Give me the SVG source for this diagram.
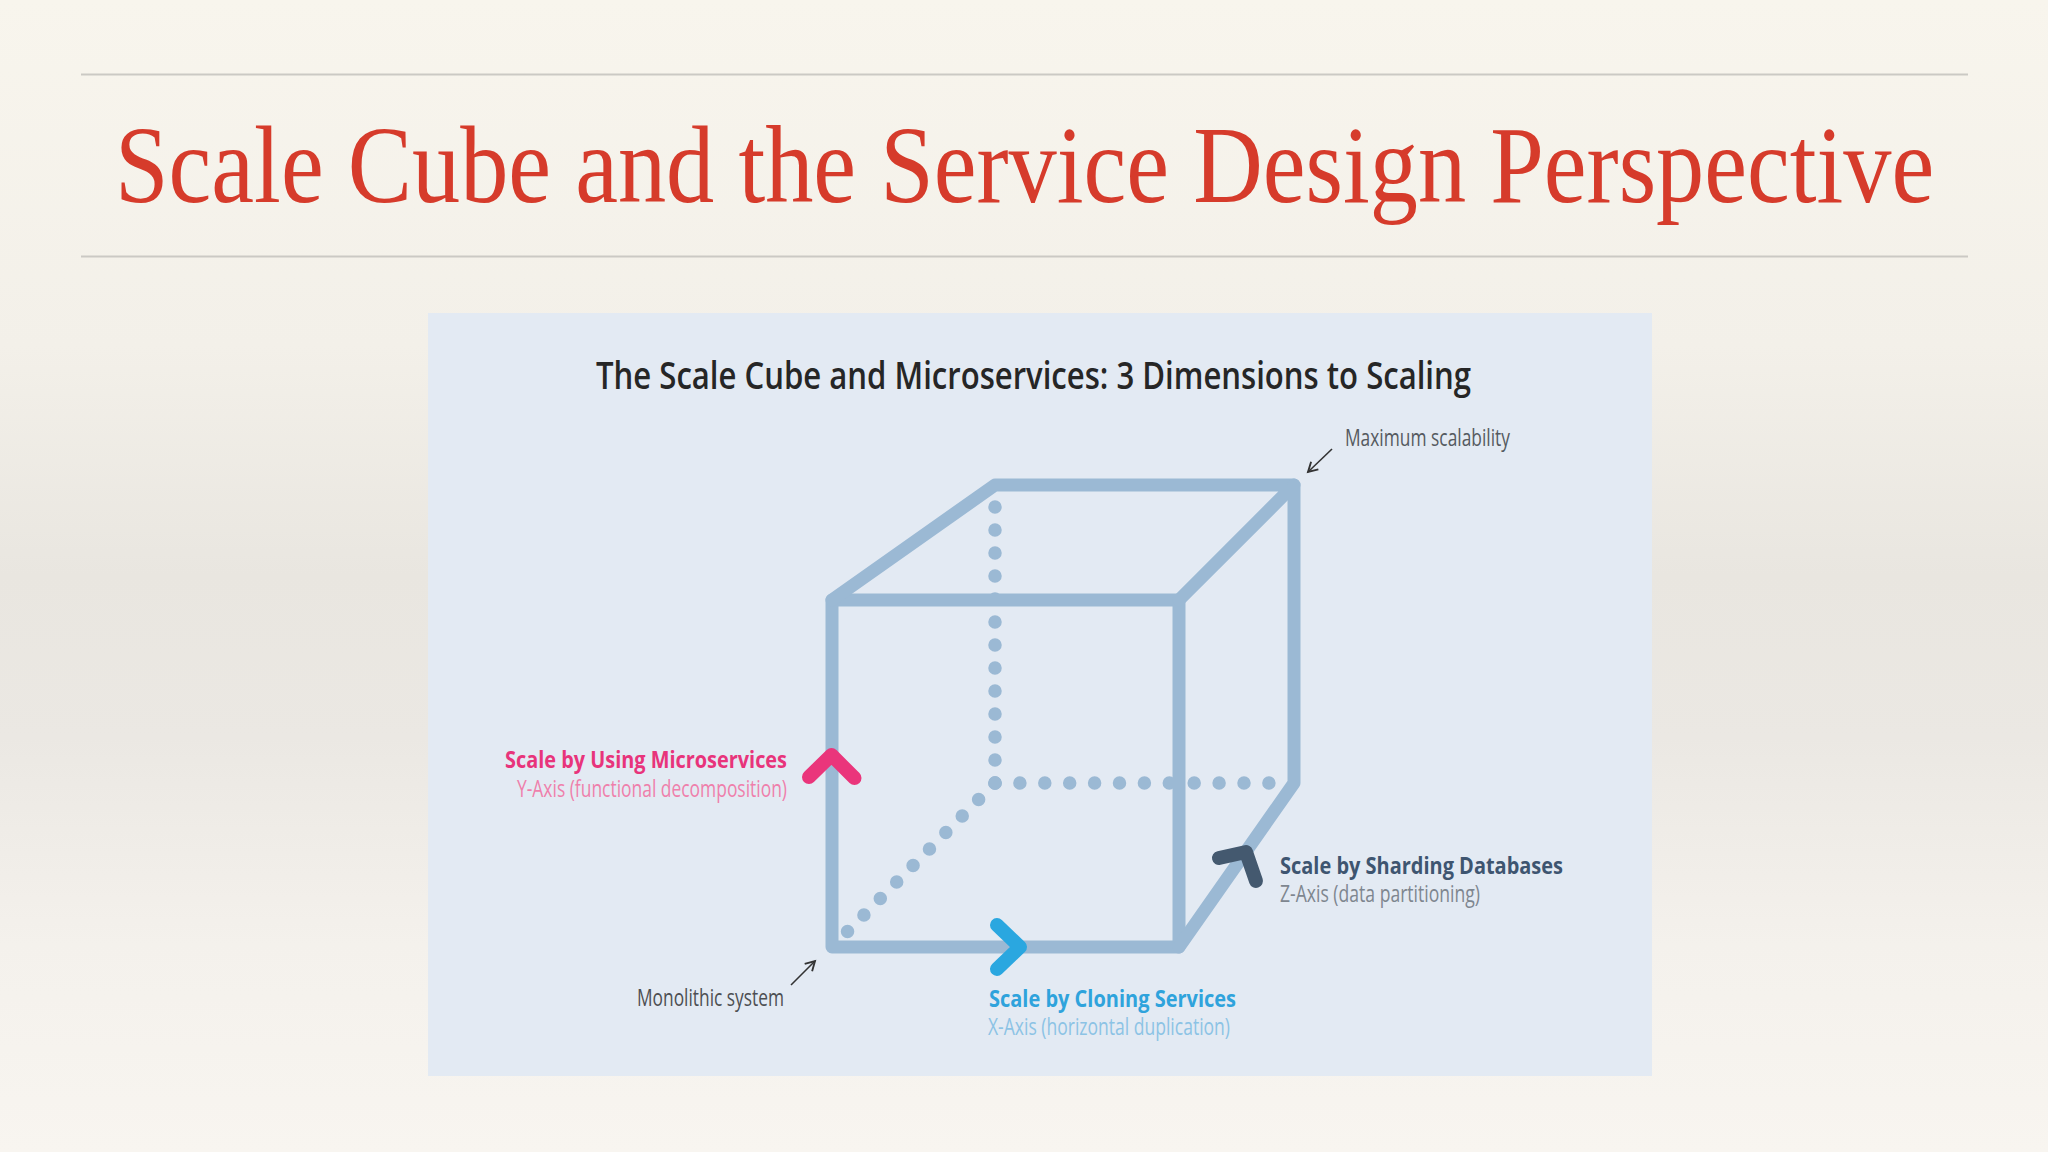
<svg xmlns="http://www.w3.org/2000/svg" width="2048" height="1152" viewBox="0 0 2048 1152">
  <defs>
    <linearGradient id="bg" x1="0" y1="0" x2="0" y2="1">
      <stop offset="0" stop-color="#f8f5ed"/>
      <stop offset="0.3" stop-color="#f3f0e9"/>
      <stop offset="0.5" stop-color="#e9e6e0"/>
      <stop offset="0.64" stop-color="#ebe8e3"/>
      <stop offset="0.82" stop-color="#f4f1ec"/>
      <stop offset="1" stop-color="#f8f5f0"/>
    </linearGradient>
    <marker id="tip" markerUnits="userSpaceOnUse" markerWidth="14" markerHeight="14" viewBox="-10 -6 12 12" refX="0" refY="0" orient="auto">
      <path d="M-8,-4.5 L0,0 L-8,4.5" fill="none" stroke="#333" stroke-width="1.6"/>
    </marker>
    <style>
      .rule { stroke:#cbc9c4; stroke-width:2; }
      .edge { fill:none; stroke:#9bb9d4; stroke-width:13; stroke-linecap:round; stroke-linejoin:round; }
      .dots { fill:none; stroke:#9bb9d4; stroke-width:13.5; stroke-linecap:round; }
      .chev { fill:none; stroke-width:14; stroke-linecap:round; stroke-linejoin:round; }
      .pointer { fill:none; stroke:#333; stroke-width:1.6; marker-end:url(#tip); }
      .lbl { font-family:"Open Sans","Noto Sans","Liberation Sans",sans-serif; font-size:23px; }
      .bold { font-weight:700; }
    </style>
  </defs>

  <rect x="0" y="0" width="2048" height="1152" fill="url(#bg)"/>

  <g id="header">
    <line class="rule" x1="81" y1="74.5" x2="1968" y2="74.5"/>
    <text transform="translate(115,202) scale(0.876,1)" x="0" y="0" font-family="'Liberation Serif','Times New Roman',serif" font-size="110" fill="#d63b2b">Scale Cube and the Service Design Perspective</text>
    <line class="rule" x1="81" y1="256.5" x2="1968" y2="256.5"/>
  </g>

  <g id="panel">
    <rect x="428" y="313" width="1224" height="763" fill="#e3eaf3"/>
    <text x="596" y="389" font-family="'Open Sans','Noto Sans','Liberation Sans',sans-serif" font-size="38" font-weight="600" fill="#262626" textLength="875" lengthAdjust="spacingAndGlyphs">The Scale Cube and Microservices: 3 Dimensions to Scaling</text>
  </g>

  <g id="cube">
    <path class="dots" d="M995 783 V505" stroke-dasharray="0 23"/>
    <path class="dots" d="M995 783 H1270" stroke-dasharray="0 24.9"/>
    <path class="dots" d="M995 783 L847.5 931.5" stroke-dasharray="0 23.25"/>
    <path class="edge" d="M832 600 H1179 V947 H832 Z"/>
    <path class="edge" d="M832 600 L995 485 H1294 L1179 600"/>
    <path class="edge" d="M1294 485 V783 L1179 947"/>
  </g>

  <g id="connectors">
    <path class="pointer" d="M1332 449 L1308 472"/>
    <path class="pointer" d="M791 985 L815 961"/>
    <path class="chev" stroke="#ea357b" d="M809 777 L831.5 755 L854.5 778"/>
    <path class="chev" stroke="#2aa7e0" d="M997 925 L1020 947 L997 969"/>
    <path class="chev" stroke="#44596f" d="M1219 858 L1246 852 L1256 881"/>
  </g>

  <g id="label-max">
    <text class="lbl" x="1345" y="446" fill="#555a60" textLength="165" lengthAdjust="spacingAndGlyphs">Maximum scalability</text>
  </g>
  <g id="label-y">
    <text class="lbl bold" x="505" y="768" fill="#e8347b" textLength="282" lengthAdjust="spacingAndGlyphs">Scale by Using Microservices</text>
    <text class="lbl" x="517" y="797" fill="#ef7fab" textLength="270" lengthAdjust="spacingAndGlyphs">Y-Axis (functional decomposition)</text>
  </g>
  <g id="label-mono">
    <text class="lbl" x="637" y="1006" fill="#4d4f52" textLength="147" lengthAdjust="spacingAndGlyphs">Monolithic system</text>
  </g>
  <g id="label-x">
    <text class="lbl bold" x="989" y="1007" fill="#2fa3dc" textLength="247" lengthAdjust="spacingAndGlyphs">Scale by Cloning Services</text>
    <text class="lbl" x="988" y="1035" fill="#8cc3e5" textLength="242" lengthAdjust="spacingAndGlyphs">X-Axis (horizontal duplication)</text>
  </g>
  <g id="label-z">
    <text class="lbl bold" x="1280" y="874" fill="#3e5570" textLength="283" lengthAdjust="spacingAndGlyphs">Scale by Sharding Databases</text>
    <text class="lbl" x="1280" y="902" fill="#7e868f" textLength="200" lengthAdjust="spacingAndGlyphs">Z-Axis (data partitioning)</text>
  </g>
</svg>
